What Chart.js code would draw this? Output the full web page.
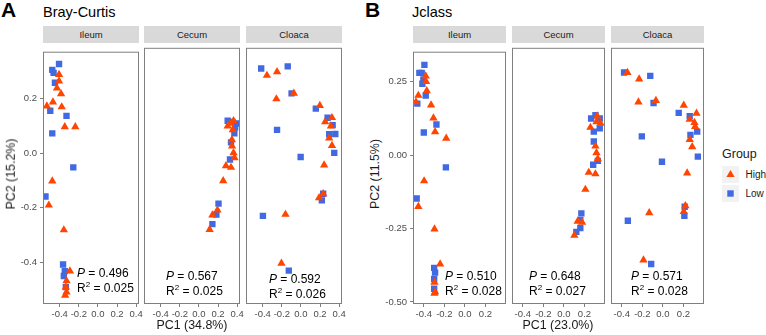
<!DOCTYPE html>
<html>
<head>
<meta charset="utf-8">
<script src="https://cdn.jsdelivr.net/npm/chart.js@4.4.1/dist/chart.umd.min.js"></script>
<style>
  body { margin: 0; background: #fff; font-family: "Liberation Sans", Arial, sans-serif; color: #1a1a1a; }
  #wrap { position: relative; width: 766px; height: 335px; overflow: hidden; }
  .abs { position: absolute; white-space: nowrap; line-height: 1; }
  .strip { position: absolute; top: 26px; height: 17px; background: #d9d9d9; font-size: 9.5px; line-height: 17px; text-align: center; color: #1a1a1a; }
  .facet { position: absolute; top: 43px; }
  .ann { position: absolute; white-space: nowrap; font-size: 12px; line-height: 15px; color: #000; }
  .ytitle { position: absolute; white-space: nowrap; font-size: 12.4px; line-height: 1; transform: translate(-50%, -50%) rotate(-90deg); }
  .xtitle { position: absolute; white-space: nowrap; font-size: 12.4px; line-height: 1; transform: translateX(-50%); }
</style>
</head>
<body>
<div id="wrap"></div>
<script>
// facet names and group labels
const facets = ["Ileum", "Cecum", "Cloaca"];
const groups = ["High", "Low"];
const groupColors = ["#ff4500", "#4169e1"];

// Bray-Curtis PCoA, [PC1, PC2] per sample
const bcIleumHigh = [[-0.407,0.289],[-0.407,0.265],[-0.429,0.239],[-0.386,0.218],[-0.471,0.188],[-0.535,0.173],[-0.379,0.170],[-0.347,0.097],[-0.237,0.097],[-0.478,-0.102],[-0.514,-0.191],[-0.357,-0.282],[-0.293,-0.433],[-0.329,-0.469],[-0.336,-0.492],[-0.329,-0.510],[-0.343,-0.522]];
const bcIleumLow = [[-0.407,0.328],[-0.478,0.306],[-0.464,0.295],[-0.450,0.259],[-0.499,0.156],[-0.329,0.137],[-0.478,0.073],[-0.258,-0.052],[-0.549,-0.159],[-0.365,-0.409],[-0.347,-0.433],[-0.357,-0.451],[-0.336,-0.492]];
const bcCecumHigh = [[0.362,0.109],[0.301,0.090],[0.354,0.076],[0.330,0.100],[0.345,0.040],[0.347,0.017],[0.362,-0.007],[0.373,-0.025],[0.283,-0.054],[0.336,-0.060],[0.254,-0.108],[0.194,-0.214],[0.141,-0.232],[0.112,-0.285]];
const bcCecumLow = [[0.301,0.109],[0.389,0.099],[0.350,0.105],[0.379,0.085],[0.371,0.064],[0.336,0.031],[0.325,-0.031],[0.205,-0.191],[0.183,-0.230],[0.141,-0.265]];
const bcCloacaHigh = [[-0.356,0.273],[-0.250,0.286],[-0.074,0.208],[-0.257,0.188],[0.198,0.164],[0.325,0.120],[0.254,0.105],[0.314,0.090],[0.296,0.046],[0.325,0.019],[0.243,-0.051],[0.233,-0.155],[0.190,-0.170],[-0.162,-0.230],[-0.204,-0.407]];
const bcCloacaLow = [[-0.416,0.298],[-0.138,0.306],[-0.098,0.208],[0.156,0.153],[0.279,0.120],[0.332,0.093],[-0.250,0.076],[0.296,0.060],[0.360,0.061],[0.349,-0.007],[-0.003,-0.022],[0.233,-0.155],[0.219,-0.179],[-0.398,-0.235],[-0.127,-0.433]];

// Jclass PCoA
const jcIleumHigh = [[-0.381,0.269],[-0.378,0.250],[-0.371,0.219],[-0.453,0.203],[-0.476,0.181],[-0.329,0.170],[-0.306,0.126],[-0.290,0.079],[-0.182,0.057],[-0.397,-0.088],[-0.453,-0.175],[-0.296,-0.252],[-0.241,-0.371],[-0.296,-0.433],[-0.290,-0.466],[-0.296,-0.471]];
const jcIleumLow = [[-0.394,0.307],[-0.420,0.280],[-0.443,0.280],[-0.404,0.258],[-0.414,0.243],[-0.381,0.203],[-0.463,0.175],[-0.277,0.104],[-0.400,0.077],[-0.185,-0.042],[-0.469,-0.148],[-0.299,-0.384],[-0.290,-0.400],[-0.299,-0.422],[-0.299,-0.455]];
const jcCecumHigh = [[0.324,0.123],[0.317,0.104],[0.356,0.099],[0.258,0.085],[0.307,0.022],[0.317,0.000],[0.330,-0.020],[0.242,-0.066],[0.307,-0.071],[0.209,-0.123],[0.134,-0.230],[0.177,-0.233],[0.102,-0.277]];
const jcCecumLow = [[0.307,0.126],[0.265,0.115],[0.349,0.115],[0.349,0.082],[0.291,0.071],[0.291,0.038],[0.330,-0.027],[0.285,-0.040],[0.170,-0.203],[0.160,-0.225],[0.160,-0.252],[0.121,-0.265]];
const jcCloacaHigh = [[-0.345,0.269],[-0.231,0.247],[-0.238,0.170],[-0.068,0.175],[0.203,0.159],[0.327,0.132],[0.261,0.112],[0.307,0.101],[0.314,0.088],[0.261,0.044],[0.285,0.020],[0.236,-0.068],[0.219,-0.178],[0.203,-0.197],[-0.133,-0.201],[-0.189,-0.360]];
const jcCloacaLow = [[-0.378,0.269],[-0.123,0.258],[-0.091,0.167],[0.154,0.134],[0.261,0.123],[0.334,0.071],[0.268,0.060],[-0.205,0.055],[0.340,-0.013],[-0.009,-0.030],[0.212,-0.181],[0.209,-0.211],[-0.341,-0.228],[-0.114,-0.373]];

// PERMANOVA results per facet
const bcP = ["0.496", "0.567", "0.592"];
const bcR2 = ["0.025", "0.025", "0.026"];
const jcP = ["0.510", "0.648", "0.571"];
const jcR2 = ["0.028", "0.027", "0.028"];

// axis ticks
const bcXTicks = [-0.4, -0.2, 0, 0.2, 0.4];
const bcYTicks = [-0.4, -0.2, 0, 0.2];
const jcXTicks = [-0.4, -0.2, 0, 0.2];
const jcYTicks = [-0.5, -0.25, 0, 0.25];

const wrap = document.getElementById("wrap");
const PLOT_H = 261, X_AXIS_H = 22, Y_AXIS_W = 30, PAD = 12;

const frame = {
  id: "frame",
  afterDatasetsDraw(chart) {
    const a = chart.chartArea, ctx = chart.ctx;
    ctx.save();
    ctx.strokeStyle = "#7f7f7f";
    ctx.lineWidth = 1;
    ctx.strokeRect(a.left + 0.5, a.top + 0.5, a.right - a.left - 1, a.bottom - a.top - 1);
    ctx.restore();
  }
};

function addText(html, cls, left, top, style) {
  const d = document.createElement("div");
  d.className = cls;
  d.innerHTML = html;
  d.style.left = left + "px";
  d.style.top = top + "px";
  if (style) Object.assign(d.style, style);
  wrap.appendChild(d);
  return d;
}

function drawFacet(o) {
  const w = o.width + (o.showY ? Y_AXIS_W : PAD) + PAD;
  const h = PLOT_H + X_AXIS_H;
  const box = document.createElement("div");
  box.className = "facet";
  box.style.left = (o.left - (o.showY ? Y_AXIS_W : PAD)) + "px";
  const cv = document.createElement("canvas");
  cv.width = w; cv.height = h;
  cv.style.width = w + "px"; cv.style.height = h + "px";
  box.appendChild(cv);
  wrap.appendChild(box);

  // strip
  const s = addText(o.name, "strip", o.left, 26);
  s.style.width = o.width + "px";

  const tickFont = { family: "Liberation Sans", size: 9.5 };
  new Chart(cv.getContext("2d"), {
    type: "scatter",
    data: {
      datasets: [
        {
          label: groups[0],
          data: o.high.map((p) => ({ x: p[0], y: p[1] })),
          pointStyle: "triangle",
          pointRadius: 4.8,
          pointHoverRadius: 4.8,
          backgroundColor: groupColors[0],
          borderWidth: 0,
        },
        {
          label: groups[1],
          data: o.low.map((p) => ({ x: p[0], y: p[1] })),
          pointStyle: "rect",
          pointRadius: 4.5,
          pointHoverRadius: 4.5,
          backgroundColor: groupColors[1],
          borderWidth: 0,
        },
      ],
    },
    options: {
      responsive: false,
      animation: false,
      events: [],
      layout: { padding: { left: o.showY ? 0 : PAD, right: PAD, top: 0, bottom: 0 } },
      plugins: { legend: { display: false }, tooltip: { enabled: false } },
      scales: {
        x: {
          type: "linear",
          min: o.xr[0], max: o.xr[1],
          afterBuildTicks: (sc) => { sc.ticks = o.xTicks.map((v) => ({ value: v })); },
          afterFit: (sc) => { sc.height = X_AXIS_H; },
          grid: { drawOnChartArea: false, drawTicks: true, tickLength: 3, color: "#7f7f7f" },
          border: { display: false },
          ticks: {
            autoSkip: false, maxRotation: 0, minRotation: 0, padding: 2,
            color: "#4d4d4d", font: tickFont,
            callback: (v) => v.toFixed(1),
          },
        },
        y: {
          type: "linear",
          display: o.showY,
          min: o.yr[0], max: o.yr[1],
          afterBuildTicks: (sc) => { sc.ticks = o.yTicks.map((v) => ({ value: v })); },
          afterFit: (sc) => { sc.width = o.showY ? Y_AXIS_W : 0; },
          grid: { drawOnChartArea: false, drawTicks: true, tickLength: 3, color: "#7f7f7f" },
          border: { display: false },
          ticks: {
            autoSkip: false, padding: 3,
            color: "#4d4d4d", font: tickFont,
            callback: (v) => v.toFixed(o.yDec),
          },
        },
      },
    },
    plugins: [frame],
  });

  addText('<i>P</i> = ' + o.p + '<br>R<sup style="font-size:8px;line-height:0">2</sup> = ' + o.r2, "ann", o.annX, o.annY);
}

// ---- panel A: Bray-Curtis
const aLefts = [43, 144, 246];
const aHigh = [bcIleumHigh, bcCecumHigh, bcCloacaHigh];
const aLow = [bcIleumLow, bcCecumLow, bcCloacaLow];
const aAnn = [[77, 266], [166, 268.5], [269, 272]];
facets.forEach((f, i) => {
  drawFacet({
    name: f, left: aLefts[i], width: 96, showY: i === 0,
    high: aHigh[i], low: aLow[i],
    xr: [-0.575, 0.43], yr: [-0.554, 0.373],
    xTicks: bcXTicks, yTicks: bcYTicks, yDec: 1,
    p: bcP[i], r2: bcR2[i], annX: aAnn[i][0], annY: aAnn[i][1],
  });
});

// ---- panel B: Jclass
const bLefts = [413, 512, 611];
const bHigh = [jcIleumHigh, jcCecumHigh, jcCloacaHigh];
const bLow = [jcIleumLow, jcCecumLow, jcCloacaLow];
const bAnn = [[445, 268.5], [529, 268.5], [631, 268.5]];
facets.forEach((f, i) => {
  drawFacet({
    name: f, left: bLefts[i], width: 93, showY: i === 0,
    high: bHigh[i], low: bLow[i],
    xr: [-0.505, 0.40], yr: [-0.507, 0.352],
    xTicks: jcXTicks, yTicks: jcYTicks, yDec: 2,
    p: jcP[i], r2: jcR2[i], annX: bAnn[i][0], annY: bAnn[i][1],
  });
});

// titles
addText("A", "abs", 1, -1, { fontSize: "21px", fontWeight: "bold", color: "#000" });
addText("Bray-Curtis", "abs", 43, 5, { fontSize: "14.5px", color: "#000" });
addText("B", "abs", 365, -1, { fontSize: "21px", fontWeight: "bold", color: "#000" });
addText("Jclass", "abs", 412, 5, { fontSize: "14.5px", color: "#000" });

// axis titles
addText("PC1 (34.8%)", "xtitle", 192, 318.5);
addText("PC1 (23.0%)", "xtitle", 558, 318.5);
addText("PC2 (15.2%)", "ytitle", 11, 174);
addText("PC2 (11.5%)", "ytitle", 374.5, 174);

// legend
addText("Group", "abs", 722, 147.5, { fontSize: "12.5px" });
const keyY = [166, 184.5];
groups.forEach((g, i) => {
  const k = document.createElement("div");
  k.style.cssText = "position:absolute;left:722px;top:" + keyY[i] + "px;width:17px;height:17px;background:#f2f2f2";
  k.innerHTML = i === 0
    ? '<svg width="17" height="17"><polygon points="8.5,3.9 12.6,11 4.4,11" fill="' + groupColors[0] + '"/></svg>'
    : '<svg width="17" height="17"><rect x="5.3" y="5.3" width="6.4" height="6.4" fill="' + groupColors[1] + '"/></svg>';
  wrap.appendChild(k);
  addText(g, "abs", 745.5, keyY[i], { fontSize: "10px", lineHeight: "17px" });
});
</script>
</body>
</html>
